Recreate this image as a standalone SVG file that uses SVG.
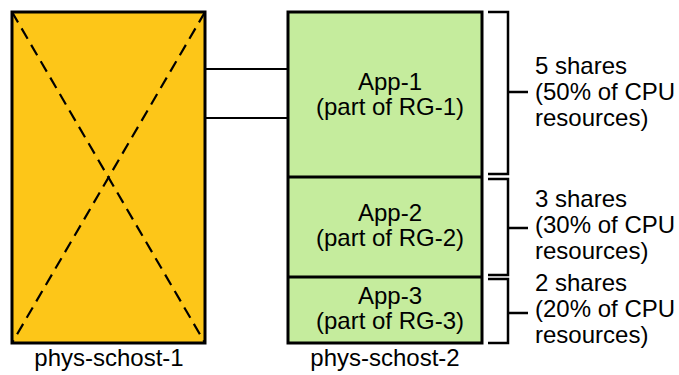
<svg xmlns="http://www.w3.org/2000/svg" width="679" height="375" viewBox="0 0 679 375">
<style>
text{font-family:"Liberation Sans",Arial,sans-serif;font-size:24px;fill:#000}
.c{text-anchor:middle}
.box{stroke:#000;stroke-width:3}
.ln{stroke:#000;stroke-width:2;fill:none}
.br{stroke:#000;stroke-width:2.5;fill:none}
.dg{stroke:#000;stroke-width:2.2;stroke-dasharray:12,7}
</style>
<rect width="679" height="375" fill="#fff"/>
<g id="connectors">
<line class="ln" x1="205" y1="69" x2="288" y2="69"/>
<line class="ln" x1="205" y1="118" x2="288" y2="118"/>
</g>
<g id="phys-schost-1">
<rect class="box" x="12" y="12" width="193" height="331" fill="#FDC618"/>
<line class="dg" x1="12" y1="12" x2="205" y2="343"/>
<line class="dg" x1="205" y1="12" x2="12" y2="343"/>
<text class="c" x="109" y="366">phys-schost-1</text>
</g>
<g id="phys-schost-2">
<rect class="box" x="288" y="12" width="194" height="331" fill="#C5EC9D"/>
<line class="box" x1="288" y1="177" x2="482" y2="177"/>
<line class="box" x1="288" y1="277" x2="482" y2="277"/>
<text class="c" x="385" y="366">phys-schost-2</text>
</g>
<g id="app-1">
<text class="c" x="390" y="90">App-1</text>
<text class="c" x="390" y="115">(part of RG-1)</text>
</g>
<g id="app-2">
<text class="c" x="390" y="221">App-2</text>
<text class="c" x="390" y="246">(part of RG-2)</text>
</g>
<g id="app-3">
<text class="c" x="390" y="304">App-3</text>
<text class="c" x="390" y="329">(part of RG-3)</text>
</g>
<g id="share-1">
<path class="br" d="M488,12 H508 V174 H488 M508,92 H528"/>
<text x="535" y="74">5 shares</text>
<text x="535" y="100">(50% of CPU</text>
<text x="535" y="126">resources)</text>
</g>
<g id="share-2">
<path class="br" d="M488,179 H508 V275 H488 M508,228 H528"/>
<text x="535" y="207">3 shares</text>
<text x="535" y="233">(30% of CPU</text>
<text x="535" y="259">resources)</text>
</g>
<g id="share-3">
<path class="br" d="M488,279 H508 V343 H488 M508,313 H528"/>
<text x="535" y="291">2 shares</text>
<text x="535" y="317">(20% of CPU</text>
<text x="535" y="343">resources)</text>
</g>
</svg>
